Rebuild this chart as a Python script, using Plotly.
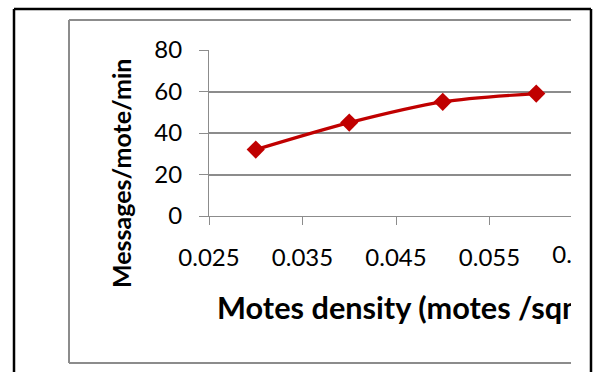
import plotly.graph_objects as go

# ---- data ----
density = [0.03, 0.04, 0.05, 0.06]
messages = [32, 45, 55, 59]
x_ticks = [0.025, 0.035, 0.045, 0.055]
x_tick_text = ["0.025", "0.035", "0.045", "0.055"]
y_ticks = [0, 20, 40, 60, 80]
clipped_tick = 0.065
x_title = "Motes density (motes /sqm)"
y_title = "Messages/mote/min"

W, H = 593, 372
FONT = "Lato, 'Open Sans', sans-serif"
GRID = "#8c8c8c"
RED = "#C00000"

def px(v):
    return v / W

def py(v):
    return 1 - v / H

# plot area in pixels
PL, PR, PT, PB = 209, 571, 50, 216
x0 = 0.025
per_px = 0.01 / 93.5
x_range = [x0, x0 + (PR - PL) * per_px]

fig = go.Figure()

fig.add_trace(go.Scatter(
    x=density, y=messages, mode="lines+markers",
    line=dict(color=RED, width=3.2, shape="spline", smoothing=0.8),
    marker=dict(symbol="diamond", size=14, color=RED),
    showlegend=False, hoverinfo="skip",
))

# overlay subplot (pixel coordinates) used to clip text at the cropped right edge
clip_tick_px = PL + (clipped_tick - x0) / per_px
fig.add_trace(go.Scatter(
    x=[217, clip_tick_px], y=[311, 257],
    text=["<b>" + x_title + "</b>", "0.065"],
    mode="text", textposition=["middle right", "middle center"],
    textfont=dict(family=FONT, size=[30.7, 24], color="black"),
    xaxis="x2", yaxis="y2", cliponaxis=True,
    showlegend=False, hoverinfo="skip",
))

fig.update_layout(
    template="none",
    width=W, height=H,
    autosize=False,
    margin=dict(l=0, r=0, t=0, b=0, pad=0, autoexpand=False),
    paper_bgcolor="white",
    plot_bgcolor="rgba(0,0,0,0)",
    xaxis=dict(
        domain=[px(PL), px(PR)], range=x_range,
        tickvals=x_ticks, ticktext=x_tick_text,
        ticks="outside", ticklen=8, tickcolor=GRID, tickwidth=1,
        showline=True, linecolor=GRID, linewidth=1,
        showgrid=False, zeroline=False, automargin=False,
        tickfont=dict(family=FONT, size=24, color="black"),
        ticklabelstandoff=12,
        anchor="y",
    ),
    yaxis=dict(
        domain=[py(PB), py(PT)], range=[0, 80],
        tickvals=y_ticks,
        ticks="outside", ticklen=9, tickcolor=GRID, tickwidth=1,
        showline=True, linecolor=GRID, linewidth=1,
        showgrid=True, gridcolor=GRID, gridwidth=1.5,
        zeroline=False, automargin=False,
        tickfont=dict(family=FONT, size=24, color="black"),
        ticklabelstandoff=12,
        anchor="x",
    ),
    xaxis2=dict(domain=[0, px(PR)], range=[0, PR], visible=False,
                anchor="y2", fixedrange=True, automargin=False),
    yaxis2=dict(domain=[0, 1], range=[H, 0], visible=False,
                anchor="x2", fixedrange=True, automargin=False),
    annotations=[dict(
        text="<b>" + y_title + "</b>", textangle=-90,
        x=px(121), y=py(174), xref="paper", yref="paper",
        showarrow=False, font=dict(family=FONT, size=25, color="black"),
        xanchor="center", yanchor="middle",
    )],
    shapes=[
        # gray chart frame (cropped at right)
        dict(type="line", xref="paper", yref="paper", x0=px(69), x1=px(69), y0=py(20), y1=py(363), line=dict(color=GRID, width=2)),
        dict(type="line", xref="paper", yref="paper", x0=px(69), x1=px(PR), y0=py(20), y1=py(20), line=dict(color=GRID, width=2)),
        dict(type="line", xref="paper", yref="paper", x0=px(69), x1=px(PR), y0=py(363), y1=py(363), line=dict(color=GRID, width=2)),
        # black outer frame
        dict(type="line", xref="paper", yref="paper", x0=px(14), x1=px(14), y0=py(9), y1=py(372), line=dict(color="black", width=2.5)),
        dict(type="line", xref="paper", yref="paper", x0=px(14), x1=px(591), y0=py(9), y1=py(9), line=dict(color="black", width=2.5)),
        dict(type="line", xref="paper", yref="paper", x0=px(591), x1=px(591), y0=py(9), y1=py(372), line=dict(color="black", width=2.5)),
    ],
)

fig.write_html("out.html")
